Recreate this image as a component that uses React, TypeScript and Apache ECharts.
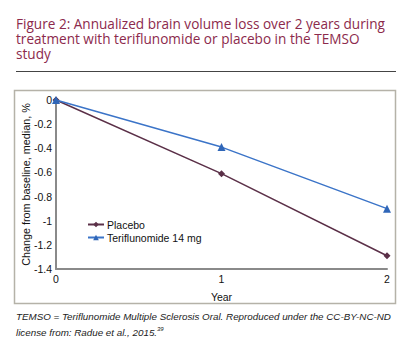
import React, { useEffect, useRef } from "react";
import * as echarts from "echarts";

const years = [0, 1, 2];
const placebo = [0, -0.61, -1.29];
const teriflunomide = [0, -0.39, -0.9];
const seriesNames = ["Placebo", "Teriflunomide 14 mg"];
const titleLines = [
  "Figure 2: Annualized brain volume loss over 2 years during",
  "treatment with teriflunomide or placebo in the TEMSO",
  "study",
];
const footerLine1 = "TEMSO = Teriflunomide Multiple Sclerosis Oral. Reproduced under the CC-BY-NC-ND";
const footerLine2 = "license from: Radue et al., 2015.";
const footerSup = "39";

export default function App() {
  const ref = useRef<HTMLDivElement>(null);
  useEffect(() => {
    const chart = echarts.init(ref.current!, null, { renderer: "svg" });
    const titleColor = "#8c2a4c";
    const font = "'Liberation Sans', Arial, sans-serif";
    chart.setOption({
      animation: false,
      backgroundColor: "#ffffff",
      graphic: [
        {
          type: "text",
          left: 16,
          top: 16,
          style: { text: titleLines.join("\n"), fill: titleColor, font: "13.6px 'Open Sans', sans-serif", lineHeight: 15 },
        },
        { type: "line", shape: { x1: 16, y1: 71.5, x2: 396, y2: 71.5 }, style: { stroke: "#444", lineWidth: 1 } },
        { type: "rect", shape: { x: 14.5, y: 90.5, width: 381, height: 213 }, style: { fill: "none", stroke: "#b5b2a8", lineWidth: 1.5 } },
        {
          type: "text",
          left: 16,
          top: 310,
          style: { text: footerLine1, fill: "#222", font: "italic 9.8px " + font, lineHeight: 12 },
        },
        {
          type: "text",
          left: 16,
          top: 326,
          style: {
            text: "{a|" + footerLine2 + "}{s|" + footerSup + "}",
            rich: {
              a: { fill: "#222", font: "italic 9.8px " + font, lineHeight: 12 },
              s: { fill: "#222", font: "italic 6px " + font, verticalAlign: "top", lineHeight: 8 },
            },
          },
        },
      ],
      legend: {
        orient: "vertical",
        left: 87,
        top: 219,
        padding: 0,
        itemWidth: 16,
        itemHeight: 7,
        itemGap: 2,
        textStyle: { fontFamily: font, fontSize: 10.5, color: "#111", padding: [0, 0, 0, -2] },
        data: seriesNames,
      },
      grid: { left: 56, right: 23, top: 100, bottom: 83 },
      xAxis: {
        type: "value",
        min: 0,
        max: 2,
        interval: 1,
        name: "Year",
        nameLocation: "middle",
        nameGap: 22,
        nameTextStyle: { fontFamily: font, fontSize: 10.5, color: "#111" },
        axisLine: { show: true, onZero: false, lineStyle: { color: "#8a8a8a", width: 2 } },
        axisTick: { show: false },
        splitLine: { show: false },
        axisLabel: { fontFamily: font, fontSize: 10.5, color: "#111", margin: 4 },
      },
      yAxis: {
        type: "value",
        min: -1.4,
        max: 0,
        interval: 0.2,
        name: "Change from baseline, median, %",
        nameLocation: "middle",
        nameGap: 25,
        nameMoveOverlap: false,
        nameTextStyle: { fontFamily: font, fontSize: 10.8, color: "#111" },
        axisLine: { show: true, onZero: false, lineStyle: { color: "#8a8a8a", width: 2 } },
        axisTick: { show: false },
        splitLine: { show: false },
        axisLabel: {
          fontFamily: font,
          fontSize: 10.5,
          color: "#111",
          margin: 4,
          formatter: (v: number) => String(Math.round(v * 10) / 10),
        },
      },
      series: [
        {
          name: seriesNames[0],
          type: "line",
          data: years.map((x, i) => [x, placebo[i]]),
          symbol: "diamond",
          symbolSize: 7,
          lineStyle: { color: "#5b3048", width: 1.5 },
          itemStyle: { color: "#5b3048" },
          z: 2,
        },
        {
          name: seriesNames[1],
          type: "line",
          data: years.map((x, i) => [x, teriflunomide[i]]),
          symbol: "triangle",
          symbolSize: 8,
          lineStyle: { color: "#3b74c8", width: 1.5 },
          itemStyle: { color: "#2f66b8" },
          z: 3,
        },
      ],
    });
    return () => chart.dispose();
  }, []);
  return <div ref={ref} style={{ position: "fixed", left: 0, top: 0, width: 410, height: 352 }} />;
}
